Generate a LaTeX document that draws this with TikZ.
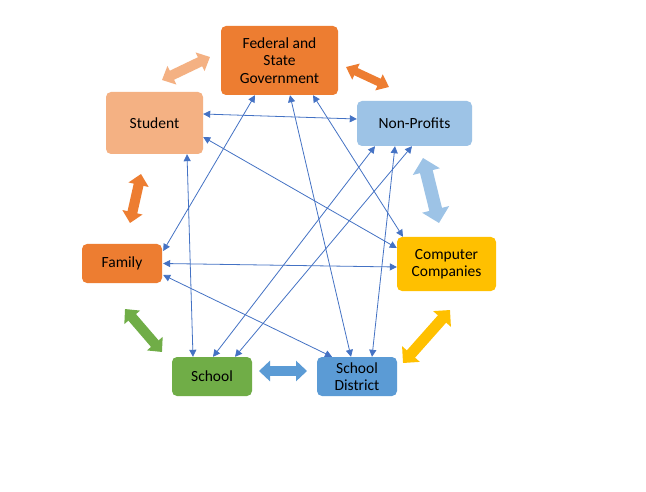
\documentclass[tikz,border=0pt]{standalone}
\usepackage{fontspec}
\setmainfont{Carlito}
\usetikzlibrary{arrows.meta,calc}
\definecolor{cOrange}{HTML}{ED7D31}
\definecolor{cPeach}{HTML}{F4B183}
\definecolor{cLBlue}{HTML}{9DC3E6}
\definecolor{cYellow}{HTML}{FFC000}
\definecolor{cGreen}{HTML}{70AD47}
\definecolor{cBlue}{HTML}{5B9BD5}
\definecolor{cLine}{HTML}{4472C4}
\begin{document}
\begin{tikzpicture}[x=1pt,y=-1pt,
  box/.style={rounded corners=5pt, inner sep=0pt, align=center,
    font=\fontsize{15.5}{17.5}\selectfont, text=black},
  link/.style={draw=cLine, line width=0.8pt,
    {Triangle[length=7pt,width=7pt]}-{Triangle[length=7pt,width=7pt]}},
  blk/.style={line width=10pt,
    {Triangle[length=11pt,width=20pt]}-{Triangle[length=11pt,width=20pt]}}
]
\useasboundingbox (0,0) rectangle (646,492);
\fill[white] (0,0) rectangle (646,492);

% nodes
\node[box, fill=cOrange, minimum width=117pt, minimum height=69pt] (gov) at (279.5,60.5) {Federal and\\State\\Government};
\node[box, fill=cPeach, minimum width=97pt, minimum height=62pt] (stu) at (154.5,123) {Student};
\node[box, fill=cLBlue, minimum width=115pt, minimum height=45pt] (np) at (414.5,123.5) {Non-Profits};
\node[box, fill=cOrange, minimum width=80pt, minimum height=39pt] (fam) at (122,263.5) {Family};
\node[box, fill=cYellow, minimum width=99pt, minimum height=54pt] (comp) at (446.5,264) {Computer\\Companies};
\node[box, fill=cGreen, minimum width=80pt, minimum height=39pt] (sch) at (212,376.5) {School};
\node[box, fill=cBlue, minimum width=80pt, minimum height=39pt] (dist) at (357,376.5) {School\\District};

% block arrows end points
\coordinate (sg1) at (162,80);   \coordinate (sg2) at (210,57);
\coordinate (gn1) at (346,67);   \coordinate (gn2) at (389,87);
\coordinate (nc1) at (423,158);  \coordinate (nc2) at (439,223);
\coordinate (sf1) at (141,174);  \coordinate (sf2) at (130,223);
\coordinate (fs1) at (125,309);  \coordinate (fs2) at (162,352);
\coordinate (sd1) at (259,371);  \coordinate (sd2) at (307,371);
\coordinate (cd1) at (450,310);  \coordinate (cd2) at (403,363);

\draw[blk, cPeach] (sg1) -- (sg2);
\draw[cOrange, line width=8pt, {Triangle[length=11pt,width=17pt]}-{Triangle[length=11pt,width=17pt]}] (gn1) -- (gn2);
\draw[cLBlue, line width=13pt, {Triangle[length=14pt,width=27pt]}-{Triangle[length=14pt,width=27pt]}] (nc1) -- (nc2);
\draw[blk, cOrange] (sf1) -- (sf2);
\draw[blk, cGreen] (fs1) -- (fs2);
\draw[blk, cBlue] (sd1) -- (sd2);
\draw[cYellow, line width=11pt, {Triangle[length=12pt,width=23pt]}-{Triangle[length=12pt,width=23pt]}] (cd1) -- (cd2);

% thin connectors
\draw[link] ($(stu.east)+(0,-9)$) -- ($(np.west)+(0,-4.5)$);
\draw[link] ($(gov.south)+(-24.5,0)$) -- ($(fam.east)+(1,-12.5)$);
\draw[link] ($(stu.south)+(32.5,0)$) -- ($(sch.north)+(-19,0)$);
\draw[link] ($(stu.east)+(0,14)$) -- ($(comp.west)+(0,-16)$);
\draw[link] ($(fam.east)+(1,0)$) -- ($(comp.west)+(0,3)$);
\draw[link] ($(fam.east)+(1,11.5)$) -- ($(dist.north)+(-25,0)$);
\draw[link] ($(gov.south)+(10.5,0)$) -- ($(dist.north)+(-6,0)$);
\draw[link] ($(gov.south)+(33.5,0)$) -- ($(comp.north)+(-43.5,0)$);
\draw[link] ($(np.south)+(-39.5,0)$) -- ($(sch.north)+(1,0)$);
\draw[link] ($(np.south)+(-2.5,0)$) -- ($(sch.north)+(23,0)$);
\draw[link] ($(np.south)+(-19.5,0)$) -- ($(dist.north)+(15,0)$);
\end{tikzpicture}
\end{document}
